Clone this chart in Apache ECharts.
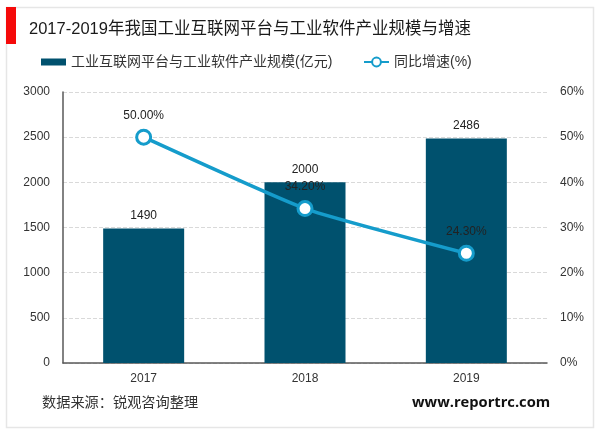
<!DOCTYPE html>
<html>
<head>
<meta charset="utf-8">
<style>
html,body{margin:0;padding:0;background:#fff;}
#main{width:600px;height:433px;}
</style>
<script src="https://cdn.jsdelivr.net/npm/echarts@6/dist/echarts.min.js"></script>
</head>
<body>
<div id="main"></div>
<script>
var years = ['2017', '2018', '2019'];
var scaleValues = [1490, 2000, 2486];
var growthValues = [50.00, 34.20, 24.30];
var scaleName = '工业互联网平台与工业软件产业规模(亿元)';
var growthName = '同比增速(%)';
var titleText = '2017-2019年我国工业互联网平台与工业软件产业规模与增速';
var sourceText = '数据来源：锐观咨询整理';
var siteText = 'www.reportrc.com';

var fontCn = '"Liberation Sans","Noto Sans CJK SC",sans-serif';
var myChart = echarts.init(document.getElementById('main'));
myChart.setOption({
    animation: false,
    backgroundColor: '#fff',
    textStyle: {fontFamily: fontCn},
    graphic: [
        {type: 'rect', z: 0, shape: {x: 6.5, y: 7.5, width: 587, height: 420},
            style: {fill: '#fff', stroke: '#e6e6e6', lineWidth: 1.5}},
        {type: 'rect', z: 1, shape: {x: 6, y: 7, width: 10, height: 37}, style: {fill: '#f50a0a'}},
        {type: 'text', z: 1, left: 29, top: 21,
            style: {text: titleText, fill: '#1a1a1a', font: '16.5px ' + fontCn}},
        {type: 'text', z: 1, left: 42, top: 396,
            style: {text: sourceText, fill: '#333', font: '14.2px ' + fontCn}},
        {type: 'text', z: 1, left: 412, top: 395,
            style: {text: siteText, fill: '#111', font: 'bold 14.7px "Open Sans",sans-serif'}}
    ],
    legend: [
        {
            data: [{name: scaleName, icon: 'rect'}], left: 36, top: 50, itemWidth: 25, itemHeight: 7, itemGap: 4,
            textStyle: {fontSize: 14, color: '#333'}
        },
        {
            data: [growthName], left: 358, top: 50, itemWidth: 25, itemHeight: 11, itemGap: 4,
            textStyle: {fontSize: 14, color: '#333'}
        }
    ],
    grid: {left: 63, right: 53, top: 92, bottom: 70},
    xAxis: {
        type: 'category',
        data: years,
        axisTick: {show: false},
        axisLine: {lineStyle: {color: '#595959', width: 1.5}},
        axisLabel: {color: '#333', fontSize: 12, margin: 10}
    },
    yAxis: [
        {
            type: 'value', min: 0, max: 3000, interval: 500,
            axisLine: {show: true, lineStyle: {color: '#595959', width: 1.5}},
            axisTick: {show: false},
            axisLabel: {color: '#333', fontSize: 12, margin: 13, formatter: function (v) { return String(v); }},
            splitLine: {lineStyle: {color: '#d9d9d9', type: 'dashed'}}
        },
        {
            type: 'value', min: 0, max: 60, interval: 10,
            axisLine: {show: false},
            axisTick: {show: false},
            axisLabel: {color: '#333', fontSize: 12, margin: 13, formatter: '{value}%'},
            splitLine: {show: false}
        }
    ],
    series: [
        {
            name: scaleName,
            type: 'bar',
            data: scaleValues,
            barWidth: 81,
            itemStyle: {color: '#00516e'},
            label: {show: true, position: 'top', distance: 7, color: '#222', fontSize: 12}
        },
        {
            name: growthName,
            type: 'line',
            yAxisIndex: 1,
            data: growthValues,
            smooth: 0.15,
            symbol: 'circle',
            symbolSize: 14,
            lineStyle: {color: '#159ccb', width: 3.5},
            itemStyle: {color: '#fff', borderColor: '#159ccb', borderWidth: 3},
            label: {
                show: true, position: 'top', distance: 7, color: '#222', fontSize: 12,
                formatter: function (p) { return p.value.toFixed(2) + '%'; }
            }
        }
    ]
});
</script>
</body>
</html>
